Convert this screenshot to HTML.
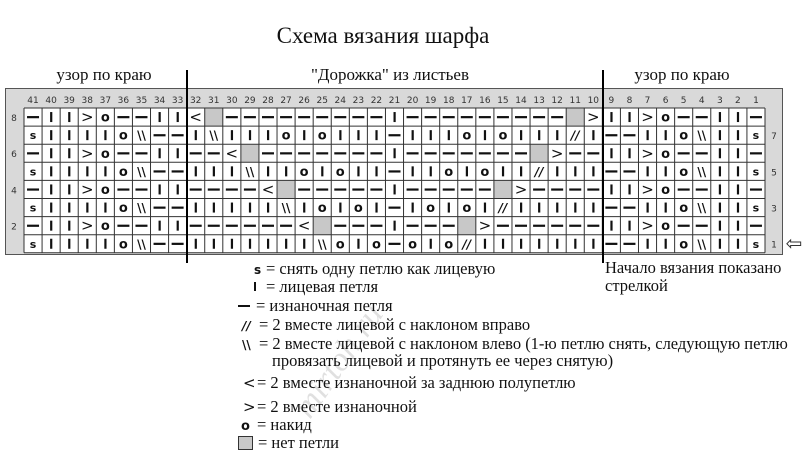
<!DOCTYPE html>
<html><head><meta charset="utf-8">
<style>
html,body{margin:0;padding:0;background:#fff;width:807px;height:463px;overflow:hidden}
svg{display:block}
.t{font-family:"Liberation Serif",serif;fill:#111}
.n{font-family:"DejaVu Sans","Liberation Sans",sans-serif;fill:#333;font-size:9px}
</style></head>
<body>
<svg id="s" width="807" height="463" viewBox="0 0 807 463" xmlns="http://www.w3.org/2000/svg">
<text class="t" x="383" y="43" font-size="23" text-anchor="middle">Схема вязания шарфа</text>
<text class="t" x="104" y="80" font-size="17" text-anchor="middle">узор по краю</text>
<text class="t" x="390" y="80" font-size="17" text-anchor="middle">"Дорожка" из листьев</text>
<text class="t" x="682" y="80" font-size="17" text-anchor="middle">узор по краю</text>
<rect x="5.5" y="88.5" width="777" height="166" fill="#d9d9d9" stroke="#555" stroke-width="1"/>
<g id="g"></g>
<line x1="187" y1="70" x2="187" y2="263" stroke="#000" stroke-width="2"/>
<line x1="603" y1="70" x2="603" y2="263" stroke="#000" stroke-width="2"/>
<text x="794" y="250" font-size="20" fill="#333" text-anchor="middle" font-family="DejaVu Sans,sans-serif">⇦</text>
<g class="t" font-size="16.5">
<text x="254" y="274" font-family="DejaVu Sans,sans-serif" font-size="12" font-weight="bold">s</text>
<text x="266" y="274">= снять одну петлю как лицевую</text>
<rect x="254" y="282" width="2" height="9" fill="#111"/>
<text x="266" y="292">= лицевая петля</text>
<rect x="238" y="305" width="12" height="2" fill="#111"/>
<text x="256" y="311">= изнаночная петля</text>
<text x="242" y="330" font-family="DejaVu Sans,sans-serif" font-size="12" font-weight="bold" font-style="italic">//</text>
<text x="259" y="330">= 2 вместе лицевой с наклоном вправо</text>
<text x="242" y="349" font-family="DejaVu Sans,sans-serif" font-size="12" font-weight="bold">\\</text>
<text x="259" y="349">= 2 вместе лицевой с наклоном влево (1-ю петлю снять, следующую петлю</text>
<text x="272" y="366">провязать лицевой и протянуть ее через снятую)</text>
<text x="243" y="388" font-family="DejaVu Sans,sans-serif" font-size="15">&lt;</text>
<text x="257" y="388">= 2 вместе изнаночной за заднюю полупетлю</text>
<text x="243" y="412" font-family="DejaVu Sans,sans-serif" font-size="15">&gt;</text>
<text x="257" y="412">= 2 вместе изнаночной</text>
<text x="241" y="430" font-family="DejaVu Sans,sans-serif" font-size="13" font-weight="bold">o</text>
<text x="257" y="430">= накид</text>
<rect x="238.5" y="436.5" width="14" height="13" fill="#c8c8c8" stroke="#333"/>
<text x="258" y="448">= нет петли</text>
<text x="605" y="273">Начало вязания показано</text>
<text x="605" y="291">стрелкой</text>
</g>
<text x="310" y="420" font-size="34" font-family="Liberation Serif,serif" font-style="italic" fill="#000" fill-opacity="0.12" transform="rotate(-55 310 420)">mirtoh.ru</text>
</svg>
<script>
(function(){
var g=document.getElementById('g'),ns='http://www.w3.org/2000/svg';
function el(n,a,t){var e=document.createElementNS(ns,n);for(var k in a)e.setAttribute(k,a[k]);if(t!=null)e.textContent=t;g.appendChild(e);return e;}
var x0=24,w=741/41,y0=108,h=18.1;
var L8="-kk>o--kk",L7="skkkkob--",R8="kk>o--kk-",R7="--kkobkks";
var mids=["<g---------k---------g>","kbkkkokokkk-kkkokokkkfk","--<g-------k-------g>--","kkkbkkokokk-kkokokkfkkk","----<g-----k-----g>----","kkkkkbkokok-kokokfkkkkk","------<g---k---g>------","kkkkkkkboko-okofkkkkkkk"];
el('rect',{x:x0,y:y0,width:741,height:8*h,fill:'#fff'});
for(var c=0;c<41;c++){el('text',{x:x0+c*w+w/2,y:103,'text-anchor':'middle','class':'n'},String(41-c));}
for(var r=0;r<8;r++){
 var rowNum=8-r,even=rowNum%2==0;
 var s=(even?L8:L7)+mids[r]+(even?R8:R7);
 var y=y0+r*h;
 if(even)el('text',{x:14,y:y+13,'text-anchor':'middle','class':'n','font-size':'10'},String(rowNum));
 else el('text',{x:774,y:y+13,'text-anchor':'middle','class':'n','font-size':'10'},String(rowNum));
 for(var c=0;c<41;c++){
  var ch=s[c],x=x0+c*w,cx=x+w/2,cy=y+h/2;
  if(ch=='g')el('rect',{x:x,y:y,width:w,height:h,fill:'#c8c8c8'});
  else if(ch=='k')el('rect',{x:cx-1,y:cy-5,width:2.2,height:10,fill:'#111'});
  else if(ch=='-')el('rect',{x:cx-6,y:cy-1,width:12,height:2.2,fill:'#111'});
  else if(ch=='o')el('text',{x:cx,y:cy+4.5,'text-anchor':'middle','font-family':'DejaVu Sans,sans-serif','font-size':'13','font-weight':'bold',fill:'#111'},'o');
  else if(ch=='s')el('text',{x:cx,y:cy+4,'text-anchor':'middle','font-family':'DejaVu Sans,sans-serif','font-size':'11','font-weight':'bold',fill:'#111'},'s');
  else if(ch=='<'||ch=='>')el('text',{x:cx,y:cy+5,'text-anchor':'middle','font-family':'DejaVu Sans,sans-serif','font-size':'15',fill:'#111'},ch);
  else if(ch=='b')el('text',{x:cx,y:cy+4.5,'text-anchor':'middle','font-family':'DejaVu Sans,sans-serif','font-size':'12','font-weight':'bold',fill:'#111'},'\\\\');
  else if(ch=='f')el('text',{x:cx,y:cy+4.5,'text-anchor':'middle','font-family':'DejaVu Sans,sans-serif','font-size':'12','font-weight':'bold','font-style':'italic',fill:'#111'},'//');
 }
}
for(var c=0;c<=41;c++)el('line',{x1:x0+c*w,y1:y0,x2:x0+c*w,y2:y0+8*h,stroke:'#333','stroke-width':1});
for(var r=0;r<=8;r++)el('line',{x1:x0,y1:y0+r*h,x2:x0+741,y2:y0+r*h,stroke:'#333','stroke-width':1});
})();
</script>
</body></html>
